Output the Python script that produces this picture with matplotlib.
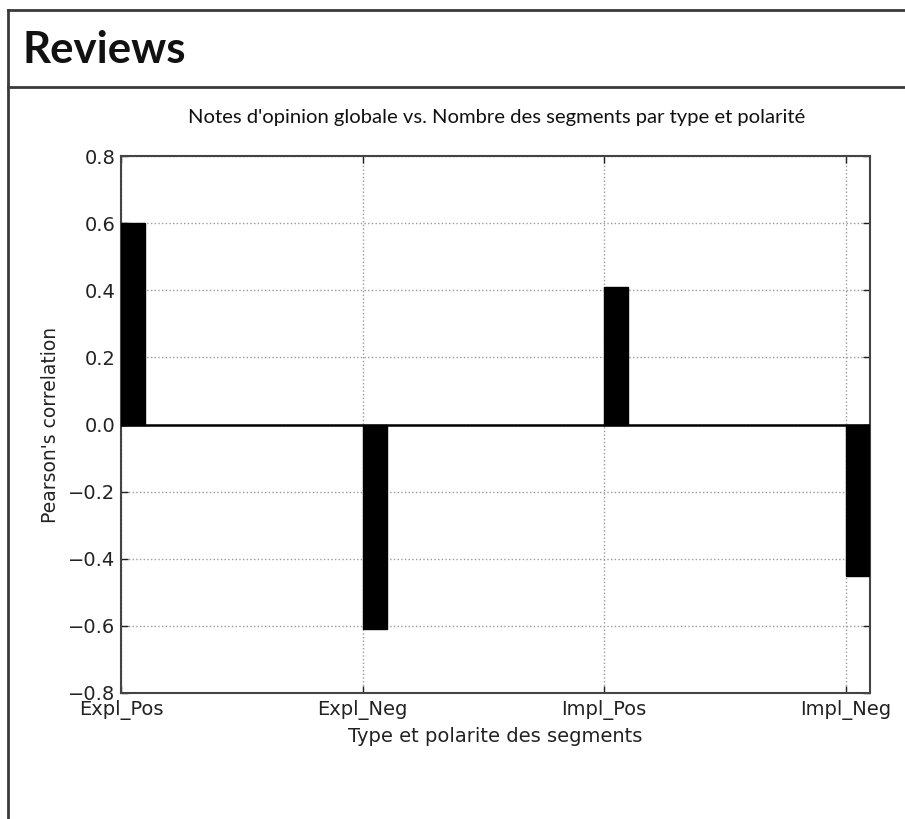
import matplotlib
matplotlib.use("Agg")
import matplotlib.pyplot as plt
from matplotlib.lines import Line2D

# Correlation of overall opinion scores with segment counts, by type and polarity
categories = ["Expl_Pos", "Expl_Neg", "Impl_Pos", "Impl_Neg"]
pearson_r = [0.60, -0.61, 0.41, -0.45]
y_ticks = [-0.8, -0.6, -0.4, -0.2, 0.0, 0.2, 0.4, 0.6, 0.8]

W, H = 905, 819
fig = plt.figure(figsize=(W / 100, H / 100), dpi=100)
fig.patch.set_facecolor("white")

# Slide-style frame with a header band
frame_color = "#3a3a3a"
fig.add_artist(Line2D([8 / W, 1.0], [1 - 10 / H, 1 - 10 / H], color=frame_color, lw=2.0))
fig.add_artist(Line2D([8 / W, 1.0], [1 - 87 / H, 1 - 87 / H], color=frame_color, lw=2.0))
fig.add_artist(Line2D([8 / W, 8 / W], [0.0, 1 - 10 / H], color=frame_color, lw=2.0))
fig.text(22 / W, 1 - 50 / H, "Reviews", fontsize=31.5, fontweight="bold",
         family=["Lato", "DejaVu Sans"], va="center", ha="left", color="#111111")

ax = fig.add_axes([121 / W, 1 - 693 / H, (870 - 121) / W, (693 - 156) / H])

x = list(range(len(categories)))
ax.bar(x, pearson_r, width=0.1, align="edge", color="black", edgecolor="black", zorder=3)
ax.axhline(0, color="black", lw=1.8, zorder=4)

ax.set_xlim(0, 3.1)
ax.set_ylim(-0.8, 0.8)
ax.set_xticks(x)
ax.set_xticklabels(categories)
ax.set_yticks(y_ticks)
ax.set_yticklabels([f"{v:.1f}".replace("-", "\u2212") for v in y_ticks])

text_color = "#222222"
ax.grid(True, linestyle=":", color="#9a9a9a", lw=1.0, zorder=0)
ax.tick_params(direction="in", length=5, width=1, top=True, right=True,
               labelsize=14, colors=text_color, pad=4)
ax.tick_params(axis="x", pad=5)
for s in ax.spines.values():
    s.set_color("#444444")
    s.set_linewidth(1.5)

ax.set_ylabel("Pearson's correlation", fontsize=13.5, color=text_color, labelpad=6)
ax.set_xlabel("Type et polarite des segments", fontsize=14, color=text_color, labelpad=5)

fig.text(497 / W, 1 - 117 / H, "Notes d'opinion globale vs. Nombre des segments par type et polarité",
         fontsize=14.6, family=["Lato", "DejaVu Sans"], ha="center", va="center", color="#111111")

fig.savefig("out.png", dpi=100)
